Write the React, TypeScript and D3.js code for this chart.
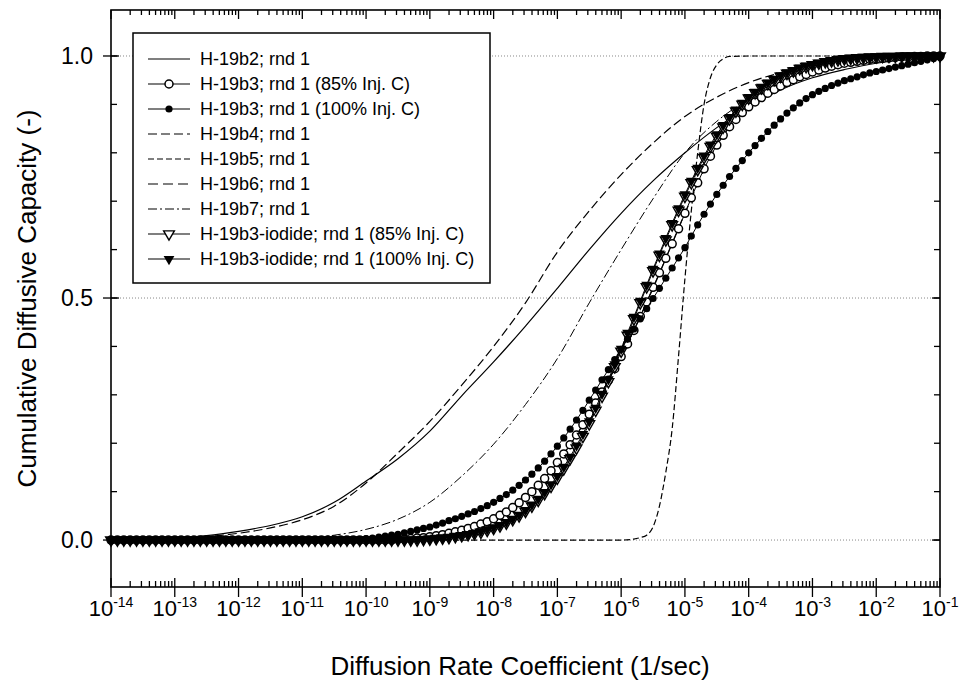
import React, { useEffect, useRef } from 'react';
import * as d3 from 'd3';

// x grid of the marker series: log10 K, every 0.1 decade from -14 to -1
const markerLogK = d3.range(0, 131).map((i) => Math.round((-14 + i / 10) * 10) / 10);

// one row per decade (-14.0 .. -13.1, -13.0 .. -12.1, ...), last value is -1.0
const b3Open = [
  0, 0, 0, 0, 0, 0, 0, 0, 0, 0,
  0, 0, 0, 0, 0, 0, 0, 0, 0, 0,
  0, 0, 0, 0, 0, 0, 0, 0, 0, 0,
  0, 0, 0, 0, 0, 0, 0, 0, 0, 0,
  0, 0, 0, 0, 0, 0.002, 0.002, 0.003, 0.004, 0.005,
  0.007, 0.009, 0.011, 0.014, 0.017, 0.02, 0.024, 0.028, 0.033, 0.038,
  0.044, 0.051, 0.058, 0.067, 0.077, 0.088, 0.1, 0.113, 0.127, 0.143,
  0.16, 0.178, 0.197, 0.217, 0.238, 0.26, 0.283, 0.306, 0.33, 0.354,
  0.379, 0.405, 0.433, 0.462, 0.492, 0.522, 0.552, 0.582, 0.612, 0.643,
  0.675, 0.707, 0.738, 0.767, 0.793, 0.816, 0.836, 0.854, 0.869, 0.883,
  0.895, 0.905, 0.914, 0.923, 0.931, 0.938, 0.945, 0.951, 0.957, 0.962,
  0.967, 0.971, 0.975, 0.979, 0.982, 0.985, 0.987, 0.989, 0.991, 0.993,
  0.994, 0.995, 0.996, 0.997, 0.998, 0.998, 0.999, 0.999, 1, 1,
  1,
];

const b3Filled = [
  0, 0, 0, 0, 0, 0, 0, 0, 0, 0,
  0, 0, 0, 0, 0, 0, 0, 0, 0, 0,
  0, 0, 0, 0, 0, 0, 0, 0, 0, 0,
  0, 0, 0, 0, 0, 0, 0, 0, 0, 0,
  0.003, 0.004, 0.006, 0.008, 0.01, 0.012, 0.015, 0.018, 0.021, 0.024,
  0.027, 0.031, 0.035, 0.04, 0.044, 0.049, 0.054, 0.059, 0.065, 0.071,
  0.078, 0.086, 0.094, 0.103, 0.113, 0.124, 0.136, 0.149, 0.163, 0.178,
  0.194, 0.211, 0.229, 0.248, 0.268, 0.289, 0.31, 0.331, 0.352, 0.373,
  0.394, 0.415, 0.436, 0.457, 0.478, 0.499, 0.52, 0.541, 0.562, 0.583,
  0.604, 0.628, 0.651, 0.673, 0.694, 0.714, 0.733, 0.751, 0.768, 0.784,
  0.8, 0.815, 0.83, 0.844, 0.857, 0.87, 0.882, 0.893, 0.903, 0.912,
  0.92, 0.927, 0.933, 0.939, 0.944, 0.949, 0.953, 0.957, 0.961, 0.965,
  0.968, 0.971, 0.974, 0.977, 0.98, 0.983, 0.986, 0.989, 0.992, 0.995,
  0.997,
];

const iodideOpen = [
  0, 0, 0, 0, 0, 0, 0, 0, 0, 0,
  0, 0, 0, 0, 0, 0, 0, 0, 0, 0,
  0, 0, 0, 0, 0, 0, 0, 0, 0, 0,
  0, 0, 0, 0, 0, 0, 0, 0, 0, 0,
  0, 0, 0, 0, 0, 0, 0, 0, 0, 0.001,
  0.002, 0.003, 0.004, 0.005, 0.007, 0.009, 0.011, 0.013, 0.016, 0.02,
  0.024, 0.029, 0.035, 0.042, 0.05, 0.059, 0.07, 0.082, 0.096, 0.111,
  0.128, 0.147, 0.168, 0.19, 0.214, 0.24, 0.268, 0.297, 0.327, 0.358,
  0.39, 0.423, 0.457, 0.49, 0.523, 0.556, 0.588, 0.62, 0.651, 0.681,
  0.71, 0.738, 0.765, 0.79, 0.813, 0.834, 0.853, 0.87, 0.886, 0.9,
  0.913, 0.924, 0.934, 0.943, 0.951, 0.958, 0.964, 0.969, 0.974, 0.978,
  0.982, 0.985, 0.988, 0.99, 0.992, 0.994, 0.995, 0.996, 0.997, 0.998,
  0.998, 0.999, 0.999, 0.999, 1, 1, 1, 1, 1, 1,
  1,
];

const iodideFilled = [
  0, 0, 0, 0, 0, 0, 0, 0, 0, 0,
  0, 0, 0, 0, 0, 0, 0, 0, 0, 0,
  0, 0, 0, 0, 0, 0, 0, 0, 0, 0,
  0, 0, 0, 0, 0, 0, 0, 0, 0, 0,
  0, 0, 0, 0, 0, 0, 0, 0, 0.001, 0.001,
  0.002, 0.003, 0.004, 0.006, 0.008, 0.01, 0.012, 0.015, 0.018, 0.022,
  0.026, 0.031, 0.037, 0.044, 0.052, 0.062, 0.073, 0.085, 0.099, 0.115,
  0.132, 0.151, 0.172, 0.195, 0.219, 0.245, 0.273, 0.302, 0.332, 0.363,
  0.395, 0.428, 0.461, 0.494, 0.527, 0.56, 0.592, 0.624, 0.655, 0.685,
  0.714, 0.742, 0.769, 0.794, 0.817, 0.838, 0.857, 0.874, 0.889, 0.903,
  0.915, 0.926, 0.936, 0.945, 0.953, 0.96, 0.966, 0.971, 0.976, 0.98,
  0.983, 0.986, 0.989, 0.991, 0.993, 0.995, 0.996, 0.997, 0.998, 0.998,
  0.999, 0.999, 0.999, 1, 1, 1, 1, 1, 1, 1,
  1,
];

// line-only series, half-decade grid
const lineLogK = [
  -14, -13.5, -13, -12.5, -12, -11.5, -11, -10.5, -10, -9.5, -9, -8.5, -8, -7.5,
  -7, -6.5, -6, -5.5, -5, -4.5, -4, -3.5, -3, -2.5, -2, -1.5, -1,
];
const b2 = [
  0, 0.001, 0.004, 0.009, 0.018, 0.03, 0.048, 0.078, 0.122, 0.168, 0.225, 0.298, 0.368, 0.442,
  0.52, 0.6, 0.675, 0.742, 0.8, 0.852, 0.895, 0.93, 0.955, 0.972, 0.985, 0.993, 0.997,
];
const b4 = [
  0, 0.001, 0.003, 0.007, 0.014, 0.025, 0.042, 0.07, 0.118, 0.18, 0.245, 0.32, 0.4, 0.49,
  0.595, 0.68, 0.755, 0.82, 0.875, 0.915, 0.945, 0.965, 0.978, 0.988, 0.994, 0.998, 1,
];
const b6 = [
  0, 0, 0, 0, 0, 0, 0, 0, 0, 0, 0.007, 0.02, 0.044, 0.088,
  0.16, 0.26, 0.38, 0.52, 0.675, 0.815, 0.895, 0.938, 0.967, 0.985, 0.994, 0.998, 1,
];
const b7 = [
  0, 0, 0, 0, 0, 0, 0.003, 0.01, 0.022, 0.043, 0.078, 0.132, 0.198, 0.28,
  0.375, 0.49, 0.6, 0.705, 0.8, 0.865, 0.91, 0.94, 0.962, 0.978, 0.989, 0.996, 0.999,
];
// steep curve has its own grid
const b5LogK = [-14, -6, -5.8, -5.7, -5.6, -5.5, -5.4, -5.3, -5.2, -5.1, -5, -4.9, -4.8, -4.7, -4.6, -4.5, -4.4, -4.3, -4, -1];
const b5 = [0, 0, 0.002, 0.005, 0.01, 0.027, 0.07, 0.14, 0.23, 0.38, 0.54, 0.68, 0.8, 0.9, 0.955, 0.982, 0.994, 0.999, 1, 1];

const legendLabels = [
  'H-19b2; rnd 1',
  'H-19b3; rnd 1 (85% Inj. C)',
  'H-19b3; rnd 1 (100% Inj. C)',
  'H-19b4; rnd 1',
  'H-19b5; rnd 1',
  'H-19b6; rnd 1',
  'H-19b7; rnd 1',
  'H-19b3-iodide; rnd 1 (85% Inj. C)',
  'H-19b3-iodide; rnd 1 (100% Inj. C)',
];
const decades = [-14, -13, -12, -11, -10, -9, -8, -7, -6, -5, -4, -3, -2, -1];
const yTickValues = [0, 0.5, 1];
const yTickLabels = ['0.0', '0.5', '1.0'];
const xTitle = 'Diffusion Rate Coefficient (1/sec)';
const yTitle = 'Cumulative Diffusive Capacity (-)';

const FONT = "'Liberation Sans', Arial, Helvetica, sans-serif";

type Marker = 'none' | 'openCircle' | 'filledCircle' | 'openTri' | 'filledTri';

const Chart: React.FC = () => {
  const ref = useRef<SVGSVGElement | null>(null);

  useEffect(() => {
    if (!ref.current) return;
    const svg = d3.select(ref.current);
    svg.selectAll('*').remove();

    const left = 111, right = 940, top = 10, bottom = 587;
    const x = d3.scaleLog().domain([1e-14, 1e-1]).range([left, right]);
    const y = d3.scaleLinear().domain([-0.097, 1.095]).range([bottom, top]);

    // dotted grid
    svg.append('g')
      .selectAll('line')
      .data(yTickValues)
      .enter()
      .append('line')
      .attr('x1', left).attr('x2', right)
      .attr('y1', (d) => y(d)).attr('y2', (d) => y(d))
      .attr('stroke', '#888').attr('stroke-width', 1).attr('stroke-dasharray', '1,2');

    const line = (xs: number[], ys: number[], curve: any) =>
      d3.line<number>()
        .x((_, i) => x(Math.pow(10, xs[i])))
        .y((d) => y(d))
        .curve(curve)(ys) as string;

    const plain = svg.append('g').attr('fill', 'none').attr('stroke', '#000');
    plain.append('path').attr('d', line(lineLogK, b2, d3.curveMonotoneX)).attr('stroke-width', 1.2);
    plain.append('path').attr('d', line(lineLogK, b4, d3.curveMonotoneX)).attr('stroke-width', 1.2).attr('stroke-dasharray', '9,4');
    plain.append('path').attr('d', line(b5LogK, b5, d3.curveMonotoneX)).attr('stroke-width', 1.2).attr('stroke-dasharray', '6,3');
    plain.append('path').attr('d', line(lineLogK, b6, d3.curveMonotoneX)).attr('stroke-width', 1.2).attr('stroke-dasharray', '10,5');
    plain.append('path').attr('d', line(lineLogK, b7, d3.curveMonotoneX)).attr('stroke-width', 1).attr('stroke-dasharray', '9,3,2,3');

    const tri = d3.symbol().type(d3.symbolTriangle).size(50)() as string;

    const drawMarker = (g: any, m: Marker) => {
      if (m === 'openCircle') {
        g.append('circle').attr('r', 4).attr('fill', '#fff').attr('stroke', '#000').attr('stroke-width', 1.5);
      } else if (m === 'filledCircle') {
        g.append('circle').attr('r', 3.6).attr('fill', '#000');
      } else if (m === 'openTri') {
        g.append('path').attr('d', tri).attr('transform', 'rotate(180)')
          .attr('fill', '#fff').attr('stroke', '#000').attr('stroke-width', 1.4);
      } else if (m === 'filledTri') {
        g.append('path').attr('d', tri).attr('transform', 'rotate(180)').attr('fill', '#000');
      }
    };

    const markerSeries: [number[], Marker][] = [
      [b3Open, 'openCircle'],
      [iodideOpen, 'openTri'],
      [iodideFilled, 'filledTri'],
      [b3Filled, 'filledCircle'],
    ];
    markerSeries.forEach(([vals, m]) => {
      svg.append('path')
        .attr('d', line(markerLogK, vals, d3.curveLinear))
        .attr('fill', 'none').attr('stroke', '#000').attr('stroke-width', 1);
      const g = svg.append('g');
      vals.forEach((v, i) => {
        const mg = g.append('g').attr('transform', `translate(${x(Math.pow(10, markerLogK[i]))},${y(v)})`);
        drawMarker(mg, m);
      });
    });

    // frame
    svg.append('rect')
      .attr('x', left).attr('y', top).attr('width', right - left).attr('height', bottom - top)
      .attr('fill', 'none').attr('stroke', '#000').attr('stroke-width', 1.6);

    const ticks = svg.append('g').attr('stroke', '#000').attr('stroke-width', 1.3);
    // x minor ticks
    decades.slice(0, -1).forEach((e) => {
      for (let k = 2; k <= 9; k++) {
        const px = x(k * Math.pow(10, e));
        ticks.append('line').attr('x1', px).attr('x2', px).attr('y1', bottom).attr('y2', bottom - 6);
        ticks.append('line').attr('x1', px).attr('x2', px).attr('y1', top).attr('y2', top + 5);
      }
    });
    decades.forEach((e) => {
      const px = x(Math.pow(10, e));
      ticks.append('line').attr('x1', px).attr('x2', px).attr('y1', bottom - 9).attr('y2', bottom + 10);
      ticks.append('line').attr('x1', px).attr('x2', px).attr('y1', top).attr('y2', top + 9);
    });
    // y ticks
    d3.range(0, 1.01, 0.1).forEach((v) => {
      const py = y(v);
      ticks.append('line').attr('x1', left).attr('x2', left + 6).attr('y1', py).attr('y2', py);
      ticks.append('line').attr('x1', right).attr('x2', right - 6).attr('y1', py).attr('y2', py);
    });
    yTickValues.forEach((v) => {
      const py = y(v);
      ticks.append('line').attr('x1', left - 8).attr('x2', left + 8).attr('y1', py).attr('y2', py);
      ticks.append('line').attr('x1', right - 8).attr('x2', right).attr('y1', py).attr('y2', py);
    });

    // y tick labels
    svg.append('g')
      .selectAll('text')
      .data(yTickValues)
      .enter()
      .append('text')
      .attr('x', 93).attr('y', (d) => y(d)).attr('dy', '0.36em')
      .attr('text-anchor', 'end')
      .attr('font-family', FONT).attr('font-size', 23)
      .text((_, i) => yTickLabels[i]);

    // x tick labels 10^e
    decades.forEach((e) => {
      const t = svg.append('text')
        .attr('x', x(Math.pow(10, e))).attr('y', 616)
        .attr('text-anchor', 'middle')
        .attr('font-family', FONT);
      t.append('tspan').attr('font-size', 22).text('10');
      t.append('tspan').attr('font-size', 14).attr('dy', -9).text(String(e));
    });

    svg.append('text')
      .attr('x', 520).attr('y', 675)
      .attr('text-anchor', 'middle')
      .attr('font-family', FONT).attr('font-size', 26)
      .text(xTitle);

    svg.append('text')
      .attr('transform', `translate(36,${(top + bottom) / 2}) rotate(-90)`)
      .attr('text-anchor', 'middle')
      .attr('font-family', FONT).attr('font-size', 26)
      .text(yTitle);

    // legend
    const lg = svg.append('g');
    lg.append('rect')
      .attr('x', 133).attr('y', 33).attr('width', 357).attr('height', 250)
      .attr('fill', '#fff').attr('stroke', '#000').attr('stroke-width', 1.5);
    const legendStyle: [string, Marker][] = [
      ['', 'none'],
      ['', 'openCircle'],
      ['', 'filledCircle'],
      ['9,4', 'none'],
      ['6,3', 'none'],
      ['10,5', 'none'],
      ['9,3,2,3', 'none'],
      ['', 'openTri'],
      ['', 'filledTri'],
    ];
    legendLabels.forEach((label, i) => {
      const cy = 59 + i * 25;
      const [dash, m] = legendStyle[i];
      lg.append('line')
        .attr('x1', 148).attr('x2', 190).attr('y1', cy).attr('y2', cy)
        .attr('stroke', '#000').attr('stroke-width', 1.1)
        .attr('stroke-dasharray', dash || null);
      if (m !== 'none') drawMarker(lg.append('g').attr('transform', `translate(169,${cy})`), m);
      lg.append('text')
        .attr('x', 200).attr('y', cy).attr('dy', '0.36em')
        .attr('font-family', FONT).attr('font-size', 18)
        .text(label);
    });
  }, []);

  return <svg ref={ref} width={962} height={689} style={{ position: 'absolute', left: 0, top: 0, background: '#fff' }} />;
};

export default function App() {
  return <Chart />;
}
